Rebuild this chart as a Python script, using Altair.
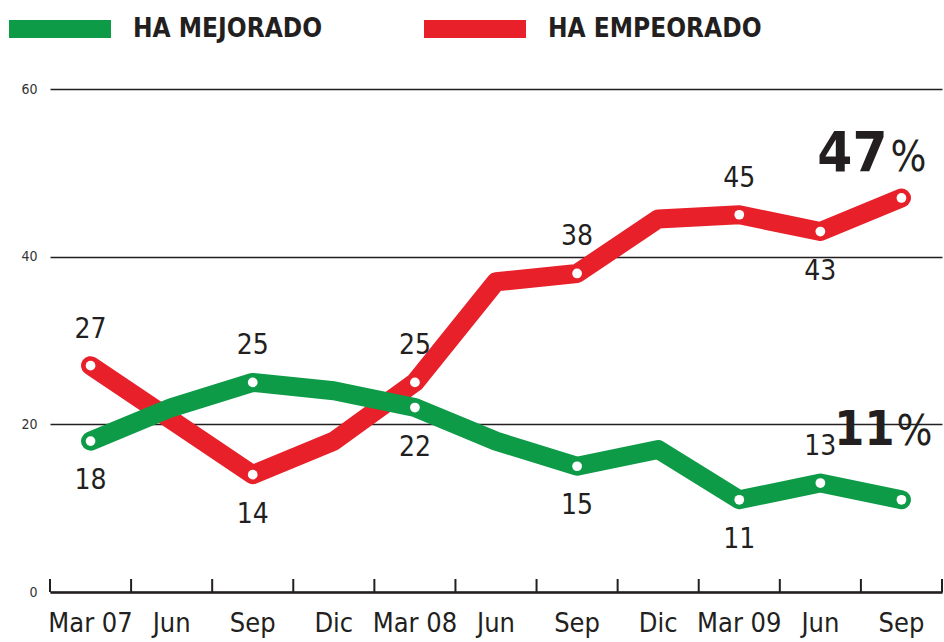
import altair as alt
import pandas as pd

# ---- data ----
periods = ["Mar 07", "Jun", "Sep", "Dic", "Mar 08", "Jun", "Sep", "Dic", "Mar 09", "Jun", "Sep"]
mejorado = [18, 22, 25, 24, 22, 18, 15, 17, 11, 13, 11]
empeorado = [27, 20.5, 14, 18, 25, 37, 38, 44.5, 45, 43, 47]
series_names = ["HA MEJORADO", "HA EMPEORADO"]
y_ticks = [0, 20, 40, 60]
# annotated points (indices into periods)
mej_above = [2, 9]
mej_below = [0, 4, 6, 8]
emp_above = [0, 4, 6, 8]
emp_below = [2, 9]
last_idx = len(periods) - 1

GREEN = "#0E9B48"
RED = "#E8202A"
INK = "#231F20"
FONT = "DejaVu Sans Condensed, Liberation Sans Narrow, sans-serif"

rows = []
for i, p in enumerate(periods):
    rows.append({"idx": i, "series": series_names[0], "value": mejorado[i],
                 "label": str(mejorado[i]),
                 "place": "above" if i in mej_above else ("below" if i in mej_below else ("end" if i == last_idx else "none"))})
    rows.append({"idx": i, "series": series_names[1], "value": empeorado[i],
                 "label": str(empeorado[i]),
                 "place": "above" if i in emp_above else ("below" if i in emp_below else ("end" if i == last_idx else "none"))})
df = pd.DataFrame(rows)
ticks_df = pd.DataFrame({"idx": list(range(len(periods)))})

label_expr = "[" + ",".join("'%s'" % p for p in periods) + "][datum.value]"

def xenc(band=0.5):
    return alt.X(
        "idx:O",
        bandPosition=band,
        scale=alt.Scale(type="band", paddingInner=0, paddingOuter=0, domain=list(range(len(periods)))),
        axis=alt.Axis(title=None, labelExpr=label_expr, labelAngle=0, ticks=False,
                      domainColor=INK, domainWidth=2.5, labelFont=FONT, labelFontSize=27,
                      labelColor=INK, labelPadding=18, labelBaseline="top"),
    )

yenc = alt.Y(
    "value:Q",
    scale=alt.Scale(domain=[0, 60], nice=False, zero=True),
    axis=alt.Axis(title=None, values=y_ticks, domain=False, ticks=False, grid=True,
                  gridColor=INK, gridWidth=1.5, labelFont=FONT, labelFontSize=14,
                  labelColor="#333333", labelPadding=13),
)

color = alt.Color(
    "series:N",
    scale=alt.Scale(domain=series_names, range=[GREEN, RED]),
    legend=alt.Legend(title=None, orient="none", legendX=-50, legendY=-120,
                      direction="horizontal", symbolType="stroke", symbolSize=10404,
                      symbolStrokeWidth=18, labelFont=FONT, labelFontSize=26,
                      labelFontWeight="bold", labelColor=INK, labelOffset=13,
                      columnPadding=65, labelLimit=400),
)

base = alt.Chart(df)

red_line = base.transform_filter(alt.datum.series == series_names[1]).mark_line(
    strokeWidth=19, strokeCap="round", strokeJoin="round").encode(x=xenc(), y=yenc, color=color)
green_line = base.transform_filter(alt.datum.series == series_names[0]).mark_line(
    strokeWidth=19, strokeCap="round", strokeJoin="round").encode(x=xenc(), y=yenc, color=color)

dots = base.transform_filter(alt.datum.place != "none").mark_circle(
    color="white", size=95, opacity=1).encode(x=xenc(), y=yenc)

above = base.transform_filter(alt.datum.place == "above").mark_text(
    font=FONT, fontSize=28, dy=-36, baseline="middle", color=INK).encode(x=xenc(), y=yenc, text="label:N")
below = base.transform_filter(alt.datum.place == "below").mark_text(
    font=FONT, fontSize=28, dy=40, baseline="middle", color=INK).encode(x=xenc(), y=yenc, text="label:N")

is_end_red = (alt.datum.place == "end") & (alt.datum.series == series_names[1])
is_end_green = (alt.datum.place == "end") & (alt.datum.series == series_names[0])

end_red = base.transform_filter(is_end_red).mark_text(
    font=FONT, fontSize=56, fontWeight="bold", align="right", baseline="alphabetic",
    dx=-14, dy=-27, color=INK).encode(x=xenc(), y=yenc, text="label:N")
end_red_pct = base.transform_filter(is_end_red).mark_text(
    font=FONT, fontSize=42, align="left", baseline="alphabetic",
    dx=-11, dy=-27, color=INK).encode(x=xenc(), y=yenc, text=alt.value("%"))
end_green = base.transform_filter(is_end_green).mark_text(
    font=FONT, fontSize=48, fontWeight="bold", align="right", baseline="alphabetic",
    dx=-7, dy=-55, color=INK).encode(x=xenc(), y=yenc, text="label:N")
end_green_pct = base.transform_filter(is_end_green).mark_text(
    font=FONT, fontSize=42, align="left", baseline="alphabetic",
    dx=-5, dy=-55, color=INK).encode(x=xenc(), y=yenc, text=alt.value("%"))

tick_base = alt.Chart(ticks_df)
ticks = tick_base.mark_rule(color=INK, strokeWidth=2).encode(
    x=xenc(0), y=alt.datum(0), y2=alt.datum(1.55))
tick_end = tick_base.transform_filter(alt.datum.idx == last_idx).mark_rule(color=INK, strokeWidth=2).encode(
    x=xenc(1), y=alt.datum(0), y2=alt.datum(1.55))

chart = alt.layer(
    ticks, tick_end, red_line, green_line, dots, above, below,
    end_red, end_red_pct, end_green, end_green_pct,
).properties(
    width=892, height=503,
    autosize=alt.AutoSizeParams(type="none"),
    padding={"left": 50, "top": 89, "right": 2, "bottom": 50},
    background="white",
).configure_view(stroke=None)

chart.save("out.html", embed_options={"renderer": "svg", "actions": False})
